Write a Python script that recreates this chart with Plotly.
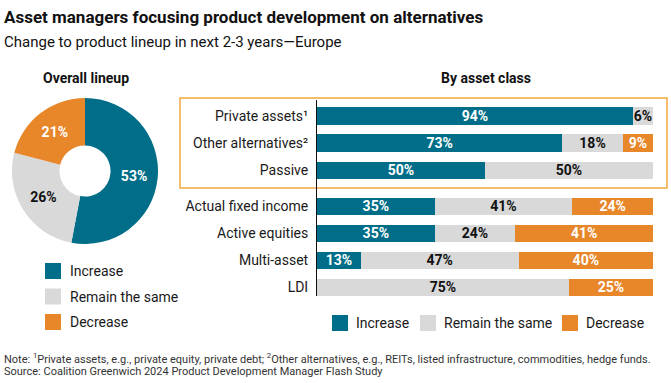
import plotly.graph_objects as go

W, H = 671, 383

# ---------------- data ----------------
overall_labels = ["Increase", "Remain the same", "Decrease"]
overall_values = [53, 26, 21]

categories = ["Private assets¹", "Other alternatives²", "Passive",
              "Actual fixed income", "Active equities", "Multi-asset", "LDI"]
increase = [94, 73, 50, 35, 35, 13, 0]
remain = [6, 18, 50, 41, 24, 47, 75]
decrease = [0, 9, 0, 24, 41, 40, 25]

series_names = ["Increase", "Remain the same", "Decrease"]
colors = ["#006E88", "#D9D9D9", "#E8862A"]
text_colors = ["white", "#111111", "white"]

FONT = "Roboto"

def px(x):
    return x / W

def py(y):
    return 1 - y / H

# row positions: highlighted group (first 3) separated by an extra gap
GAP = 1 / 3
positions = [i + (GAP if i >= 3 else 0) for i in range(len(categories))]

fig = go.Figure()

# ---------------- donut ----------------
fig.add_trace(go.Pie(
    labels=overall_labels, values=overall_values,
    hole=0.35, sort=False, direction="clockwise", rotation=0,
    marker=dict(colors=colors, line=dict(width=0)),
    texttemplate="%{value}%", textposition="inside",
    insidetextorientation="horizontal",
    textfont=dict(family=FONT, size=14, color=text_colors, weight="bold"),
    domain=dict(x=[px(12), px(158)], y=[py(245), py(97)]),
    showlegend=False, hoverinfo="label+percent",
))

# ---------------- stacked bars (zero segments omitted) ----------------
for name, vals, col, tcol in zip(series_names, [increase, remain, decrease], colors, text_colors):
    ys = [p for p, v in zip(positions, vals) if v > 0]
    xs = [v for v in vals if v > 0]
    fig.add_trace(go.Bar(
        y=ys, x=xs, orientation="h", name=name,
        marker=dict(color=col, line=dict(width=0)),
        width=0.65,
        text=[f"{v}%" for v in xs],
        textposition="inside", insidetextanchor="middle",
        constraintext="none",
        textfont=dict(family=FONT, size=14, color=tcol, weight="bold"),
        showlegend=False, cliponaxis=False,
    ))

fig.update_layout(
    width=W, height=H,
    margin=dict(l=0, r=0, t=0, b=0),
    paper_bgcolor="white", plot_bgcolor="white",
    barmode="stack",
    font=dict(family=FONT, color="#1a1a1a"),
    xaxis=dict(domain=[px(317), px(653)], range=[0, 100], visible=False, fixedrange=True),
    yaxis=dict(domain=[py(296), py(100)], range=[6.65, -0.6],
               tickvals=positions, ticktext=categories,
               showline=True, linecolor="#111111", linewidth=1,
               showgrid=False, zeroline=False, ticks="",
               ticklabelstandoff=5, fixedrange=True,
               tickfont=dict(family=FONT, size=14, color="#1a1a1a")),
)

shapes = []
annotations = []

# highlight box around alternatives + passive
shapes.append(dict(type="rect", xref="paper", yref="paper",
                   x0=px(180), x1=px(667), y0=py(188), y1=py(98),
                   line=dict(color="#F4A640", width=1.5), layer="below"))

# titles
annotations.append(dict(text="<b>Asset managers focusing product development on alternatives</b>",
                        x=px(2), y=py(17), xref="paper", yref="paper",
                        xanchor="left", yanchor="middle", showarrow=False,
                        font=dict(family=FONT, size=17, color="#111111")))
annotations.append(dict(text="Change to product lineup in next 2-3 years—Europe",
                        x=px(2), y=py(42), xref="paper", yref="paper",
                        xanchor="left", yanchor="middle", showarrow=False,
                        font=dict(family=FONT, size=15, color="#111111")))
annotations.append(dict(text="<b>Overall lineup</b>", x=px(86), y=py(78),
                        xref="paper", yref="paper", xanchor="center", yanchor="middle",
                        showarrow=False, font=dict(family=FONT, size=14, color="#111111")))
annotations.append(dict(text="<b>By asset class</b>", x=px(486), y=py(78),
                        xref="paper", yref="paper", xanchor="center", yanchor="middle",
                        showarrow=False, font=dict(family=FONT, size=14, color="#111111")))

# donut legend (vertical)
for i, (name, col) in enumerate(zip(series_names, colors)):
    yc = 271 + i * 25.5
    shapes.append(dict(type="rect", xref="paper", yref="paper",
                       x0=px(45), x1=px(61), y0=py(yc + 8), y1=py(yc - 8),
                       fillcolor=col, line=dict(width=0)))
    annotations.append(dict(text=name, x=px(68), y=py(yc), xref="paper", yref="paper",
                            xanchor="left", yanchor="middle", showarrow=False,
                            font=dict(family=FONT, size=14, color="#1a1a1a")))

# bar legend (horizontal)
leg_x = [332, 420, 562]
for name, col, x0 in zip(series_names, colors, leg_x):
    yc = 323
    shapes.append(dict(type="rect", xref="paper", yref="paper",
                       x0=px(x0), x1=px(x0 + 16), y0=py(yc + 8), y1=py(yc - 8),
                       fillcolor=col, line=dict(width=0)))
    annotations.append(dict(text=name, x=px(x0 + 22), y=py(yc), xref="paper", yref="paper",
                            xanchor="left", yanchor="middle", showarrow=False,
                            font=dict(family=FONT, size=14, color="#1a1a1a")))

# notes
annotations.append(dict(
    text="Note: <sup>1</sup>Private assets, e.g., private equity, private debt; "
         "<sup>2</sup>Other alternatives, e.g., REITs, listed infrastructure, commodities, hedge funds.",
    x=px(2), y=py(358), xref="paper", yref="paper", xanchor="left", yanchor="middle",
    showarrow=False, font=dict(family=FONT, size=11, color="#333333")))
annotations.append(dict(
    text="Source: Coalition Greenwich 2024 Product Development Manager Flash Study",
    x=px(2), y=py(371), xref="paper", yref="paper", xanchor="left", yanchor="middle",
    showarrow=False, font=dict(family=FONT, size=11, color="#333333")))

fig.update_layout(shapes=shapes, annotations=annotations)

fig.write_html("out.html", config={"displayModeBar": False},
               post_script="document.body.style.margin='0';")
